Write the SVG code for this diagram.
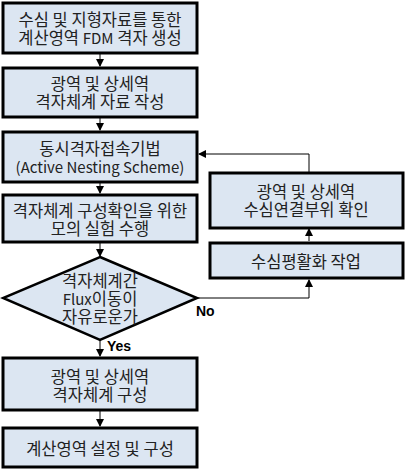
<svg xmlns="http://www.w3.org/2000/svg" width="409" height="470" viewBox="0 0 409 470">
<defs>
<style>
.box{fill:#dce6f2;stroke:#000;stroke-width:3}
.t{font-family:"Noto Sans CJK KR","Malgun Gothic",sans-serif;font-size:16.5px;fill:#222;text-anchor:middle;dominant-baseline:central}
.lat{font-size:15px}
.c{fill:none;stroke:#000;stroke-width:1}
.lbl{font-family:"Liberation Sans",Arial,sans-serif;font-size:14px;font-weight:bold;fill:#000}
</style>
<marker id="ah" markerWidth="8" markerHeight="8" refX="7" refY="4" orient="auto" markerUnits="userSpaceOnUse">
<path d="M0,0 L8,4 L0,8 Z" fill="#000"/>
</marker>
</defs>
<rect width="409" height="470" fill="#fff"/>
<g id="connectors">
<line class="c" x1="100" y1="53" x2="100" y2="66" marker-end="url(#ah)"/>
<line class="c" x1="100" y1="118" x2="100" y2="130" marker-end="url(#ah)"/>
<line class="c" x1="100" y1="183" x2="100" y2="193" marker-end="url(#ah)"/>
<line class="c" x1="100" y1="243" x2="100" y2="256" marker-end="url(#ah)"/>
<line class="c" x1="100" y1="340" x2="100" y2="356" marker-end="url(#ah)"/>
<line class="c" x1="100" y1="411" x2="100" y2="426" marker-end="url(#ah)"/>
<polyline class="c" points="197,298 309,298 309,280" marker-end="url(#ah)"/>
<line class="c" x1="309" y1="241" x2="309" y2="229" marker-end="url(#ah)"/>
<polyline class="c" points="309,172 309,154 199,154" marker-end="url(#ah)"/>
<text class="lbl" x="196" y="316">No</text>
<text class="lbl" x="107" y="351">Yes</text>
</g>
<g id="n1"><rect class="box" x="3" y="3" width="194" height="50"/><text class="t" x="100" y="19">수심 및 지형자료를 통한<tspan x="100" dy="17.5">계산영역 <tspan class="lat">FDM</tspan> 격자 생성</tspan></text></g>
<g id="n2"><rect class="box" x="3" y="68" width="194" height="49"/><text class="t" x="100" y="83">광역 및 상세역<tspan x="100" dy="18">격자체계 자료 작성</tspan></text></g>
<g id="n3"><rect class="box" x="3" y="132" width="194" height="50"/><text class="t" x="100" y="148">동시격자접속기법<tspan x="100" dy="17.5" class="lat">(Active Nesting Scheme)</tspan></text></g>
<g id="n4"><rect class="box" x="3" y="195" width="194" height="47"/><text class="t" x="100" y="210">격자체계 구성확인을 위한<tspan x="100" dy="18">모의 실험 수행</tspan></text></g>
<g id="n5"><polygon class="box" points="100,257 197,298 100,340 3,298" style="stroke-width:2.5"/><text class="t" x="100" y="280"><tspan>격자체계간</tspan><tspan x="100" dy="18"><tspan class="lat">Flux</tspan>이동이</tspan><tspan x="100" dy="18">자유로운가</tspan></text></g>
<g id="n6"><rect class="box" x="3" y="358" width="194" height="52"/><text class="t" x="100" y="376">광역 및 상세역<tspan x="100" dy="18">격자체계 구성</tspan></text></g>
<g id="n7"><rect class="box" x="3" y="428" width="194" height="39"/><text class="t" x="100" y="448">계산영역 설정 및 구성</text></g>
<g id="n8"><rect class="box" x="210" y="173" width="193" height="55"/><text class="t" x="306" y="191">광역 및 상세역<tspan x="306" dy="18">수심연결부위 확인</tspan></text></g>
<g id="n9"><rect class="box" x="210" y="243" width="193" height="35"/><text class="t" x="306" y="261">수심평활화 작업</text></g>
</svg>
